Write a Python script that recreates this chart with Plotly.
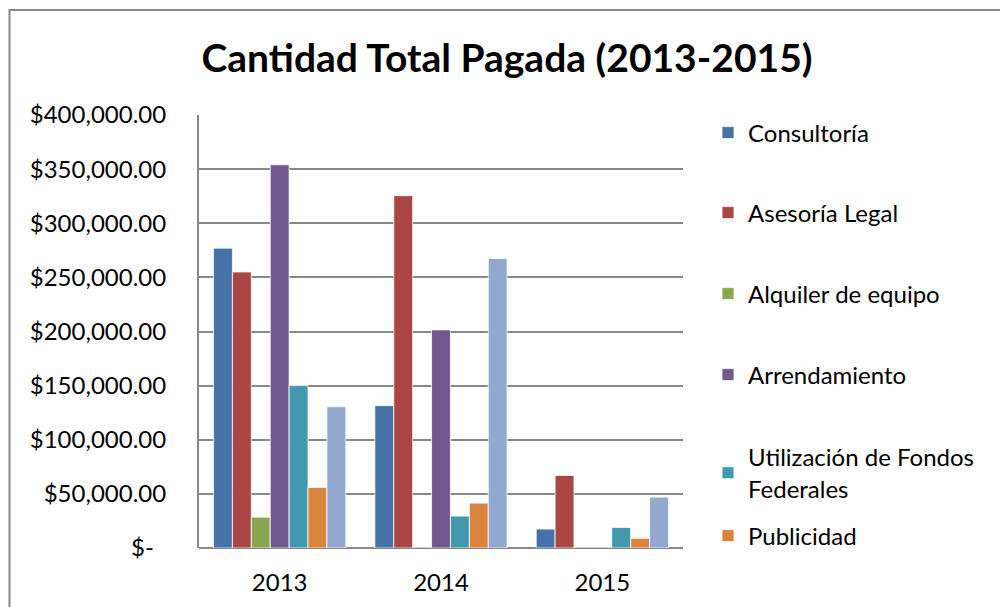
import plotly.graph_objects as go

years = ["2013", "2014", "2015"]
series_names = [
    "Consultoría",
    "Asesoría Legal",
    "Alquiler de equipo",
    "Arrendamiento",
    "Utilización de Fondos<br>Federales",
    "Publicidad",
    "Otros",
]
consultoria = [277000, 131500, 17500]
asesoria_legal = [255000, 325500, 67000]
alquiler_equipo = [28500, 0, 0]
arrendamiento = [354000, 201500, 0]
fondos_federales = [150000, 29500, 19000]
publicidad = [56000, 41500, 9000]
otros = [130500, 267500, 47000]
all_values = [consultoria, asesoria_legal, alquiler_equipo, arrendamiento,
              fondos_federales, publicidad, otros]
colors = ["#4572A7", "#AA4643", "#89A54E", "#71588F", "#4198AF", "#DB843D", "#93A9CF"]
y_ticks = [0, 50000, 100000, 150000, 200000, 250000, 300000, 350000, 400000]
y_tick_text = ["$-\u00a0\u00a0" if v == 0 else "${:,.2f}".format(v) for v in y_ticks]

OFF = 8  # page body margin
W, H = 1008 - OFF, 607 - OFF
PL, PR, PT, PB = 199 - OFF, 683 - OFF, 115 - OFF, 548 - OFF  # plot area in figure px
pw, ph = PR - PL, PB - PT

def px(x):  # x given in window pixel coords
    return (x - OFF - PL) / pw

def py(y):
    return (PB - (y - OFF)) / ph

FONT = "Lato, Carlito, Calibri, sans-serif"

fig = go.Figure()
legend_y_px = [133, 213, 294, 375, 455, 536]
for i, (name, vals, col) in enumerate(zip(series_names, all_values, colors)):
    show = i < 6
    lg = "legend" if i == 0 else f"legend{i+1}"
    fig.add_trace(go.Bar(
        x=years, y=vals, name=name, marker_color=col,
        marker_line=dict(color="white", width=0.8),
        showlegend=show,
        legend=lg if show else None,
    ))

layout_legends = {}
for i, ypx in enumerate(legend_y_px):
    key = "legend" if i == 0 else f"legend{i+1}"
    layout_legends[key] = dict(
        x=px(708), y=py(ypx), xanchor="left", yanchor="middle" if i != 4 else "top",
        font=dict(family=FONT, size=24, color="#000000"),
        bgcolor="rgba(0,0,0,0)", itemwidth=30,
        itemclick=False, itemdoubleclick=False,
    )
layout_legends["legend5"]["y"] = py(455 - 20)

fig.update_layout(
    width=W, height=H,
    margin=dict(l=PL, r=W - PR, t=PT, b=H - PB, pad=0),
    paper_bgcolor="white", plot_bgcolor="white",
    barmode="group", bargap=0.18, bargroupgap=0,
    title=dict(text="<b>Cantidad Total Pagada (2013-2015)</b>",
               x=px(507), xanchor="center", xref="paper",
               y=1 - (58 - OFF) / H, yanchor="middle", yref="container",
               font=dict(family=FONT, size=39, color="#000000")),
    font=dict(family=FONT, size=24, color="#000000"),
    xaxis=dict(showgrid=False, showline=False, ticks="",
               tickfont=dict(family=FONT, size=24, color="#000000"),
               ticklabelstandoff=18),
    yaxis=dict(range=[0, 400000], tickvals=y_ticks, ticktext=y_tick_text,
               showgrid=True, gridcolor="#878787", gridwidth=2,
               showline=True, linecolor="#878787", linewidth=2,
               zeroline=True, zerolinecolor="#878787", zerolinewidth=2,
               ticks="", ticklabelstandoff=26,
               tickfont=dict(family=FONT, size=24, color="#000000")),
    shapes=[dict(type="rect", xref="paper", yref="paper",
                 x0=px(9.5), x1=px(1004), y0=py(640), y1=py(10),
                 line=dict(color="#888888", width=2), fillcolor="rgba(0,0,0,0)",
                 layer="below")],
    **layout_legends,
)

fig.write_html("out.html")
